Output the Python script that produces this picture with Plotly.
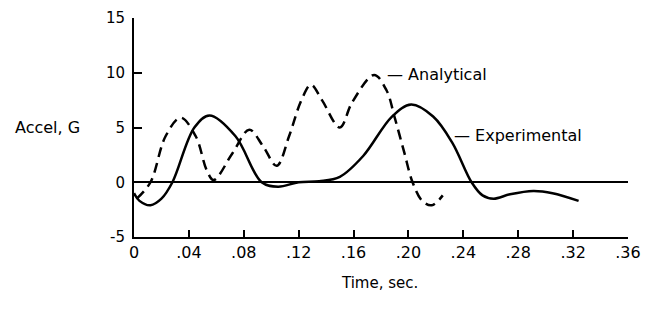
import plotly.graph_objects as go

# Experimental (solid)
exp_t = [0.0, 0.004, 0.012, 0.02, 0.028, 0.044, 0.055, 0.074, 0.093, 0.105, 0.12, 0.135, 0.15,
         0.167, 0.188, 0.202, 0.218, 0.232, 0.246, 0.254, 0.262, 0.274, 0.291, 0.305, 0.324]
exp_g = [-1.0, -1.7, -2.1, -1.5, 0.0, 5.0, 6.1, 4.2, 0.0, -0.4, 0.0, 0.1, 0.5,
         2.4, 6.0, 7.1, 6.0, 3.6, 0.0, -1.2, -1.5, -1.1, -0.8, -1.0, -1.7]

# Analytical (dashed)
ana_t = [0.002, 0.012, 0.023, 0.034, 0.045, 0.053, 0.058, 0.072, 0.084, 0.094, 0.104, 0.113,
         0.122, 0.129, 0.137, 0.15, 0.159, 0.175, 0.184, 0.19, 0.197, 0.203, 0.21, 0.217, 0.225]
ana_g = [-1.5, 0.0, 4.2, 5.9, 4.2, 1.1, 0.2, 2.7, 4.8, 3.3, 1.5, 4.2,
         7.5, 8.9, 7.5, 5.0, 7.3, 9.8, 8.4, 5.9, 2.7, 0.0, -1.7, -2.1, -1.2]

x_ticks = [0, 0.04, 0.08, 0.12, 0.16, 0.20, 0.24, 0.28, 0.32, 0.36]
x_labels = ["0", ".04", ".08", ".12", ".16", ".20", ".24", ".28", ".32", ".36"]
y_ticks = [-5, 0, 5, 10, 15]
y_labels = ["-5", "0", "5", "10", "15"]

FONT = "DejaVu Sans, sans-serif"
FS = 16

fig = go.Figure()
fig.add_trace(go.Scatter(x=exp_t, y=exp_g, mode="lines", line=dict(color="black", width=2.5, shape="spline", smoothing=1.0),
                         name="Experimental", showlegend=False))
fig.add_trace(go.Scatter(x=ana_t, y=ana_g, mode="lines", line=dict(color="black", width=2.5, dash="10px,6px", shape="spline", smoothing=1.0),
                         name="Analytical", showlegend=False))

fig.add_annotation(x=0.183, y=9.8, text="— Analytical", showarrow=False, xanchor="left", yanchor="middle",
                   font=dict(family=FONT, size=FS, color="black"))
fig.add_annotation(x=0.232, y=4.3, text="— Experimental", showarrow=False, xanchor="left", yanchor="middle",
                   font=dict(family=FONT, size=FS, color="black"))
fig.add_annotation(x=-0.245, xref="paper", y=5.0, yref="y", text="Accel, G", showarrow=False, xanchor="left",
                   yanchor="middle", font=dict(family=FONT, size=FS, color="black"))
fig.add_annotation(x=0.496, xref="paper", y=-0.21, yref="paper", text="Time, sec.", showarrow=False,
                   xanchor="center", yanchor="middle", font=dict(family=FONT, size=15, color="black"))

fig.update_layout(
    width=646, height=302,
    margin=dict(l=126, r=26, t=10, b=73, autoexpand=False),
    paper_bgcolor="white", plot_bgcolor="white",
    font=dict(family=FONT, size=15, color="black"),
    xaxis=dict(range=[0, 0.36], tickvals=x_ticks, ticktext=x_labels, ticks="inside", ticklen=7, tickwidth=1.5,
               tickcolor="black", showline=True, linecolor="black", linewidth=1.5, showgrid=False, zeroline=False,
               automargin=False, tickfont=dict(size=16)),
    yaxis=dict(range=[-5, 15], tickvals=y_ticks, ticktext=y_labels, ticks="inside", ticklen=8, tickwidth=1.5,
               tickcolor="black", showline=True, linecolor="black", linewidth=2, showgrid=False,
               zeroline=True, zerolinecolor="black", zerolinewidth=1.5, ticklabelstandoff=4, automargin=False,
               tickfont=dict(size=15)),
)

fig.write_html("out.html")
